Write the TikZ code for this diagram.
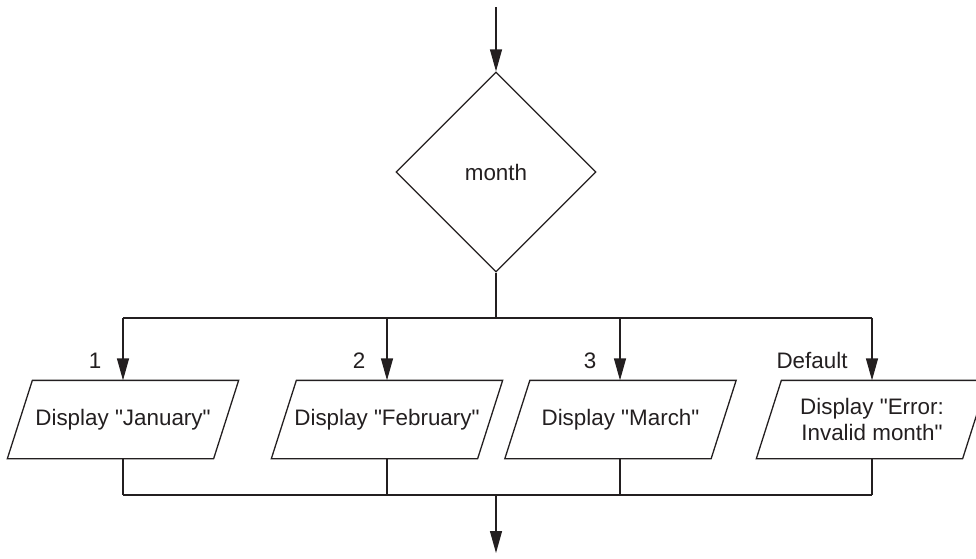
\documentclass[tikz,border=0pt]{standalone}
\usepackage{fontspec}
\setmainfont{Liberation Sans}[Ligatures=TeXOff]
\usetikzlibrary{shapes.geometric,arrows.meta}
\definecolor{ink}{HTML}{231F20}
\begin{document}
\begin{tikzpicture}[x=0.5pt,y=-0.5pt,
  font=\fontsize{11.2pt}{13pt}\selectfont,
  color=ink, line width=0.65pt,
  arr/.style={-{Triangle[length=11pt,width=6pt]}},
  dec/.style={diamond,draw=ink,minimum width=100pt,minimum height=100pt,inner sep=0pt,aspect=1,text=ink},
  iobox/.style={rectangle,minimum width=102.5pt,minimum height=38.5pt,inner sep=0pt,align=center,text=ink},
  lbl/.style={text=ink,anchor=base,inner sep=0pt}]
\clip (0,0) rectangle (976,558);
\coordinate (start) at (496,7);
\node[dec] (d) at (496,172) {month};
\coordinate (bt) at (496,318);
\coordinate (t1) at (123,318);
\coordinate (t2) at (387,318);
\coordinate (t3) at (620,318);
\coordinate (t4) at (872,318);
\node[iobox] (n1) at (123,419.5) {Display "January"};
\node[iobox] (n2) at (387,419.5) {Display "February"};
\node[iobox] (n3) at (620.5,419.5) {Display "March"};
\node[iobox] (n4) at (872,419.5) {Display "Error:\\Invalid month"};
\foreach \n in {n1,n2,n3,n4}{
  \draw ([xshift=-6.25pt]\n.south west) -- ([xshift=6.25pt]\n.north west) -- ([xshift=6.25pt]\n.north east) -- ([xshift=-6.25pt]\n.south east) -- cycle;
}
\coordinate (b1) at (123,495);
\coordinate (b2) at (387,495);
\coordinate (b3) at (620,495);
\coordinate (b4) at (872,495);
\coordinate (bb) at (496,495);
\coordinate (end) at (496,553);
\draw[arr] (start) -- (d.north);
\draw (d.south) -- (bt);
\draw (t1) -- (t4);
\draw[arr] (t1) -- (n1.north);
\draw[arr] (t2) -- (n2.north);
\draw[arr] (t3) -- (n3.north -| t3);
\draw[arr] (t4) -- (n4.north);
\node[lbl] (l1) at (95,368) {1};
\node[lbl] (l2) at (359,368) {2};
\node[lbl] (l3) at (590,368) {3};
\node[lbl] (l4) at (812,368) {Default};
\draw (n1.south) -- (b1);
\draw (n2.south) -- (b2);
\draw (n3.south -| b3) -- (b3);
\draw (n4.south) -- (b4);
\draw (b1) -- (b4);
\draw[arr] (bb) -- (end);
\end{tikzpicture}
\end{document}
